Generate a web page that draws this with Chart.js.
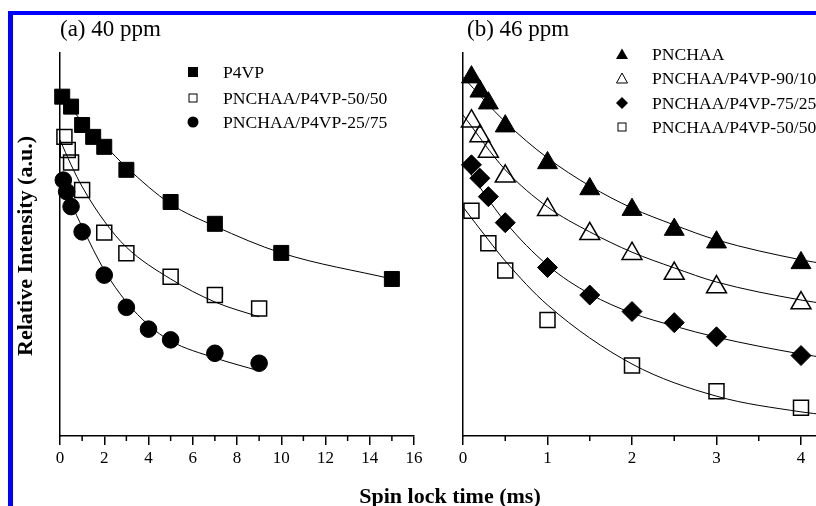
<!DOCTYPE html>
<html>
<head>
<meta charset="utf-8">
<script src="https://cdn.jsdelivr.net/npm/chart.js@4.4.1/dist/chart.umd.min.js"></script>
<style>
html, body { margin: 0; padding: 0; background: #fff; overflow: hidden; width: 816px; height: 506px; }
body { position: relative; font-family: 'Liberation Serif', 'Times New Roman', serif; color: #000; }
canvas { position: absolute; top: 0; }
.bar { position: absolute; background: #0000ff; }
.txt { position: absolute; white-space: nowrap; }
.ptitle { font-size: 23px; line-height: 26px; }
.leg { font-size: 17.6px; line-height: 20px; }
.mk { position: absolute; }
.axt { font-weight: bold; font-size: 22px; line-height: 24px; }
</style>
</head>
<body>
<div class="bar" style="left:8px;top:11px;width:808px;height:4px"></div>
<div class="bar" style="left:8px;top:11px;width:5px;height:495px"></div>

<canvas id="chartA" width="430" height="506" style="left:0"></canvas>
<canvas id="chartB" width="440" height="506" style="left:420px"></canvas>

<div class="txt ptitle" style="left:60px;top:16px">(a) 40 ppm</div>
<div class="txt ptitle" style="left:467px;top:16px">(b) 46 ppm</div>

<!-- legend (a) -->
<svg class="mk" style="left:187px;top:66px" width="12" height="12"><rect x="1" y="1" width="10" height="10" fill="#000"/></svg>
<div class="txt leg" style="left:223px;top:62px">P4VP</div>
<svg class="mk" style="left:187px;top:92px" width="12" height="12"><rect x="2" y="2" width="8" height="8" fill="none" stroke="#000" stroke-width="1"/></svg>
<div class="txt leg" style="left:223px;top:88px">PNCHAA/P4VP-50/50</div>
<svg class="mk" style="left:187px;top:116px" width="12" height="12"><circle cx="6" cy="6" r="5.5" fill="#000"/></svg>
<div class="txt leg" style="left:223px;top:112px">PNCHAA/P4VP-25/75</div>

<!-- legend (b) -->
<svg class="mk" style="left:615px;top:47px" width="14" height="14"><polygon points="7,1.5 13,12 1,12" fill="#000"/></svg>
<div class="txt leg" style="left:652px;top:44px">PNCHAA</div>
<svg class="mk" style="left:615px;top:71px" width="14" height="14"><polygon points="7,2 12.5,12 1.5,12" fill="none" stroke="#000" stroke-width="1"/></svg>
<div class="txt leg" style="left:652px;top:68px">PNCHAA/P4VP-90/10</div>
<svg class="mk" style="left:615px;top:96px" width="14" height="14"><polygon points="7,1 13,7 7,13 1,7" fill="#000"/></svg>
<div class="txt leg" style="left:652px;top:93px">PNCHAA/P4VP-75/25</div>
<svg class="mk" style="left:616px;top:121px" width="12" height="12"><rect x="2" y="2" width="8" height="8" fill="none" stroke="#000" stroke-width="1"/></svg>
<div class="txt leg" style="left:652px;top:117px">PNCHAA/P4VP-50/50</div>

<div class="txt axt" style="left:25px;top:246px;transform:translate(-50%,-50%) rotate(-90deg)">Relative Intensity (a.u.)</div>
<div class="txt axt" style="left:450px;top:496px;transform:translate(-50%,-50%)">Spin lock time (ms)</div>

<script>
// (a) 40 ppm
const timeP4VP = [0.1, 0.5, 1, 1.5, 2, 3, 5, 7, 10, 15];
const intP4VP = [88.6, 86.0, 81.2, 78.1, 75.5, 69.5, 61.1, 55.4, 47.8, 41.0];
const timeA5050 = [0.2, 0.35, 0.5, 1, 2, 3, 5, 7, 9];
const intA5050 = [78.1, 74.7, 71.4, 64.2, 53.1, 47.7, 41.6, 36.8, 33.3];
const timeA2575 = [0.15, 0.3, 0.5, 1, 2, 3, 4, 5, 7, 9];
const intA2575 = [66.8, 63.8, 59.9, 53.3, 42.0, 33.6, 27.9, 25.1, 21.6, 19.0];

// fitted curves (a)
const fitTimeP4VP = [0, 1, 2, 3, 5, 7, 10, 15];
const fitP4VP = [89.8, 82.0, 76.0, 70.2, 60.6, 54.8, 47.8, 41.0];
const fitTimeA5050 = [0, 0.5, 1, 2, 3, 5, 7, 9];
const fitA5050 = [77.3, 70.8, 65.1, 56.1, 49.3, 41.0, 35.0, 31.1];
const fitTimeA2575 = [0, 0.5, 1, 2, 3, 4, 5, 7, 9];
const fitA2575 = [67.9, 60.8, 54.6, 43.3, 35.0, 29.0, 24.8, 20.4, 17.0];

// (b) 46 ppm
const timeB = [0.1, 0.2, 0.3, 0.5, 1, 1.5, 2, 2.5, 3, 4];
const intPNCHAA = [93.7, 90.0, 86.9, 80.9, 71.3, 64.5, 59.1, 53.9, 50.6, 45.2];
const intB9010 = [82.2, 78.3, 74.3, 67.8, 59.1, 52.8, 47.6, 42.4, 38.9, 34.7];
const intB7525 = [70.8, 67.3, 62.5, 55.7, 44.0, 36.8, 32.5, 29.6, 25.9, 21.0];
const timeB5050 = [0.1, 0.3, 0.5, 1, 2, 3, 4];
const intB5050 = [58.8, 50.3, 43.2, 30.3, 18.4, 11.7, 7.4];

// fitted curves (b)
const fitTimeB = [0, 0.5, 1, 1.5, 2, 2.5, 3, 4, 4.3];
const fitPNCHAA = [93.7, 82.0, 72.6, 65.3, 59.5, 55.1, 51.2, 46.0, 44.9];
const fitB9010 = [83.8, 69.5, 59.8, 53.3, 48.0, 43.9, 40.2, 35.5, 34.5];
const fitB7525 = [71.3, 55.9, 44.6, 37.1, 32.1, 28.7, 25.8, 21.4, 20.4];
const fitTimeB5050 = [0, 0.3, 0.5, 1, 2, 3, 4, 4.3];
const fitB5050 = [59.8, 51.2, 45.7, 34.2, 18.8, 10.4, 6.3, 5.5];

const minorA = [1, 3, 5, 7, 9, 11, 13, 15];
const minorB = [0.5, 1.5, 2.5, 3.5, 4.5];

const pts = (xs, ys) => xs.map((x, i) => ({ x: x, y: ys[i] }));

function marks(xs, ys, style, radius, filled) {
    return {
        data: pts(xs, ys),
        pointStyle: style,
        pointRadius: radius,
        pointHoverRadius: radius,
        pointBackgroundColor: filled ? '#000' : 'rgba(0,0,0,0)',
        pointBorderColor: '#000',
        pointBorderWidth: filled ? 1 : 1.5,
        showLine: false,
        clip: false
    };
}

function fit(xs, ys) {
    return {
        data: pts(xs, ys),
        showLine: true,
        pointRadius: 0,
        borderColor: '#000',
        borderWidth: 1,
        cubicInterpolationMode: 'monotone',
        clip: false
    };
}

// short ticks between the labelled ones
const minorTicks = {
    id: 'minorTicks',
    afterDraw(chart, args, opts) {
        const sx = chart.scales.x, ctx = chart.ctx, y0 = chart.chartArea.bottom;
        ctx.save();
        ctx.strokeStyle = '#000';
        ctx.lineWidth = 1.5;
        opts.values.forEach(v => {
            const px = sx.getPixelForValue(v);
            ctx.beginPath();
            ctx.moveTo(px, y0);
            ctx.lineTo(px, y0 + 5);
            ctx.stroke();
        });
        ctx.restore();
    }
};

function options(xmax, step, yWidth, padRight, minor) {
    return {
        responsive: false,
        animation: false,
        layout: { padding: { top: 53, right: padRight, left: 0, bottom: 0 } },
        plugins: { legend: { display: false }, tooltip: { enabled: false }, minorTicks: { values: minor } },
        scales: {
            x: {
                type: 'linear',
                min: 0, max: xmax,
                afterFit: s => { s.height = 70; },
                border: { display: true, color: '#000', width: 1.5 },
                grid: { drawOnChartArea: false, drawTicks: true, tickLength: 9, color: '#000', lineWidth: 1.5 },
                ticks: {
                    stepSize: step, includeBounds: false, padding: 3, color: '#000',
                    font: { family: "'Liberation Serif', serif", size: 17 }
                }
            },
            y: {
                min: 0, max: 100,
                afterFit: s => { s.width = yWidth; },
                border: { display: true, color: '#000', width: 1.5 },
                grid: { display: false },
                ticks: { display: false }
            }
        }
    };
}

new Chart(document.getElementById('chartA'), {
    type: 'scatter',
    data: {
        datasets: [
            marks(timeP4VP, intP4VP, 'rect', 10.6, true),
            marks(timeA5050, intA5050, 'rect', 10.6, false),
            marks(timeA2575, intA2575, 'circle', 8.3, true),
            fit(fitTimeP4VP, fitP4VP),
            fit(fitTimeA5050, fitA5050),
            fit(fitTimeA2575, fitA2575)
        ]
    },
    options: options(16, 2, 60, 16, minorA),
    plugins: [minorTicks]
});

new Chart(document.getElementById('chartB'), {
    type: 'scatter',
    data: {
        datasets: [
            marks(timeB, intPNCHAA, 'triangle', 11.5, true),
            marks(timeB, intB9010, 'triangle', 11.5, false),
            marks(timeB, intB7525, 'rectRot', 10, true),
            marks(timeB5050, intB5050, 'rect', 10.6, false),
            fit(fitTimeB, fitPNCHAA),
            fit(fitTimeB, fitB9010),
            fit(fitTimeB, fitB7525),
            fit(fitTimeB5050, fitB5050)
        ]
    },
    options: options(4.5, 1, 43, 16.75, minorB),
    plugins: [minorTicks]
});
</script>
</body>
</html>
